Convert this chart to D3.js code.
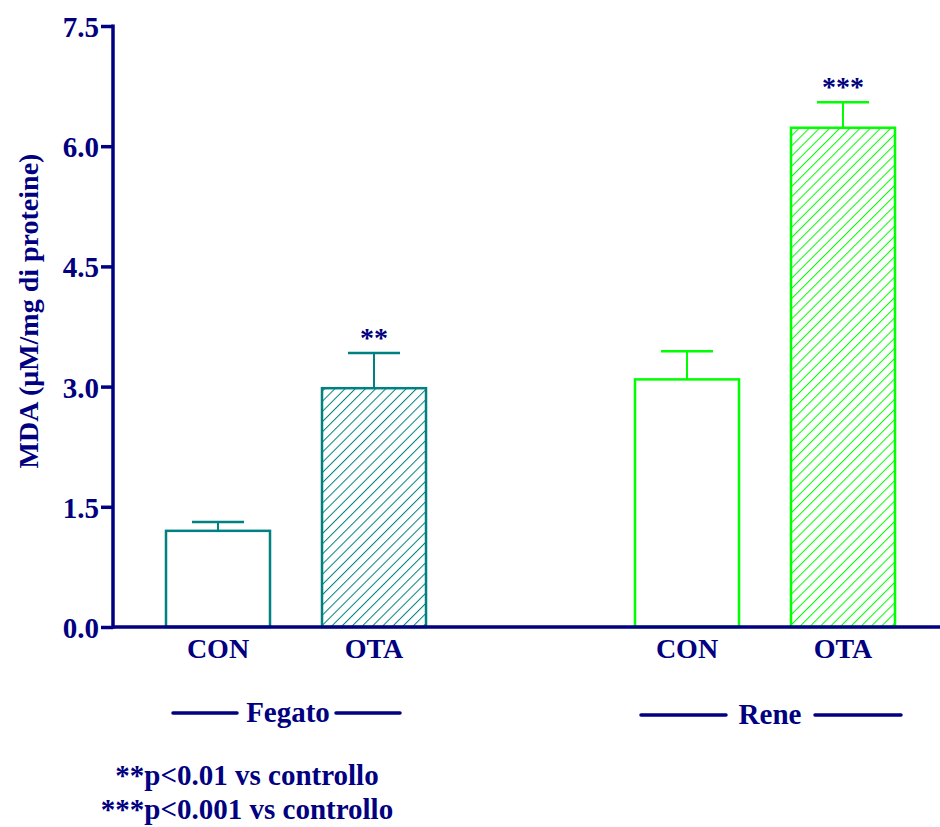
<!DOCTYPE html>
<html>
<head>
<meta charset="utf-8">
<script src="https://cdn.jsdelivr.net/npm/d3@7"></script>
<style>
  body { margin: 0; background: #fff; }
  text { font-family: "Liberation Serif", "Times New Roman", serif; font-weight: bold; fill: #000080; }
</style>
</head>
<body>
<svg id="chart" width="940" height="827"></svg>
<script>
// data
var groups = ["Fegato", "Rene"];
var treatments = ["CON", "OTA"];
var meanFegato = [1.20, 2.98];
var semFegato = [0.11, 0.44];
var meanRene = [3.09, 6.23];
var semRene = [0.35, 0.32];
var starsFegato = ["", "**"];
var starsRene = ["", "***"];
var yTicks = [0, 1.5, 3.0, 4.5, 6.0, 7.5];
var notes = ["**p<0.01 vs controllo", "***p<0.001 vs controllo"];

var groupColor = { Fegato: "#008080", Rene: "#00ff00" };
var navy = "#000080";

var rows = [];
groups.forEach(function (g, gi) {
    var means = gi === 0 ? meanFegato : meanRene;
    var sems = gi === 0 ? semFegato : semRene;
    var stars = gi === 0 ? starsFegato : starsRene;
    treatments.forEach(function (t, ti) {
        rows.push({ group: g, treat: t, mean: means[ti], sem: sems[ti], star: stars[ti] });
    });
});

var svg = d3.select("#chart");
var axisX = 113, y0 = 627, yTop = 26;

var y = d3.scaleLinear().domain([0, 7.5]).range([y0, yTop]);
var x0 = d3.scaleBand().domain(groups).range([166, 895]).paddingInner(0.4456).paddingOuter(0);
var x1 = d3.scaleBand().domain(treatments).range([0, x0.bandwidth()]).paddingInner(1 / 3).paddingOuter(0);

// hatch patterns, one per group colour
var defs = svg.append("defs");
groups.forEach(function (g) {
    var p = defs.append("pattern")
        .attr("id", "hatch-" + g)
        .attr("patternUnits", "userSpaceOnUse")
        .attr("width", 7.2).attr("height", 7.2)
        .attr("patternTransform", "rotate(45)");
    p.append("line")
        .attr("x1", 0).attr("y1", 0).attr("x2", 0).attr("y2", 7.2)
        .attr("stroke", groupColor[g]).attr("stroke-width", 2);
});

function barX(d) { return x0(d.group) + x1(d.treat); }

var bars = svg.append("g");

// error bars (upper only)
bars.selectAll(".err").data(rows).enter().append("g")
    .each(function (d) {
        var cx = barX(d) + x1.bandwidth() / 2;
        var g = d3.select(this);
        g.append("line")
            .attr("x1", cx).attr("x2", cx)
            .attr("y1", y(d.mean)).attr("y2", y(d.mean + d.sem))
            .attr("stroke", groupColor[d.group]).attr("stroke-width", 2);
        g.append("line")
            .attr("x1", cx - x1.bandwidth() / 4).attr("x2", cx + x1.bandwidth() / 4)
            .attr("y1", y(d.mean + d.sem)).attr("y2", y(d.mean + d.sem))
            .attr("stroke", groupColor[d.group]).attr("stroke-width", 2.5);
    });

bars.selectAll("rect").data(rows).enter().append("rect")
    .attr("x", barX)
    .attr("y", function (d) { return y(d.mean); })
    .attr("width", x1.bandwidth())
    .attr("height", function (d) { return y0 - y(d.mean); })
    .attr("fill", function (d) { return d.treat === "OTA" ? "url(#hatch-" + d.group + ")" : "#fff"; })
    .attr("stroke", function (d) { return groupColor[d.group]; })
    .attr("stroke-width", 2.5);

// significance stars
bars.selectAll(".star").data(rows.filter(function (d) { return d.star; })).enter().append("text")
    .attr("x", function (d) { return barX(d) + x1.bandwidth() / 2; })
    .attr("y", function (d) { return y(d.mean + d.sem) - 6; })
    .attr("text-anchor", "middle")
    .style("font-size", "28px")
    .text(function (d) { return d.star; });

// y axis
var yAxis = d3.axisLeft(y).tickValues(yTicks).tickSize(12).tickPadding(2)
    .tickFormat(d3.format(".1f"));
var ya = svg.append("g").attr("transform", "translate(" + axisX + ",0)").call(yAxis);
ya.select(".domain").remove();
ya.selectAll(".tick line").attr("stroke", navy).attr("stroke-width", 3.5);
ya.selectAll(".tick text").style("font-size", "29px").attr("fill", navy).attr("dy", "0.36em");

svg.append("line")
    .attr("x1", axisX).attr("x2", axisX).attr("y1", yTop - 1.5).attr("y2", y0 + 1.5)
    .attr("stroke", navy).attr("stroke-width", 3.5);
svg.append("line")
    .attr("x1", axisX).attr("x2", 940).attr("y1", y0).attr("y2", y0)
    .attr("stroke", navy).attr("stroke-width", 3.5);

// category labels
svg.selectAll(".cat").data(rows).enter().append("text")
    .attr("x", function (d) { return barX(d) + x1.bandwidth() / 2; })
    .attr("y", 658)
    .attr("text-anchor", "middle")
    .style("font-size", "28px")
    .text(function (d) { return d.treat; });

// group labels with lines either side
var groupLab = [
    { name: "Fegato", cx: 288, y: 722, l: [173, 237], r: [336, 400] },
    { name: "Rene", cx: 770, y: 724, l: [641, 726], r: [815, 901] }
];
groupLab.forEach(function (g) {
    svg.append("text").attr("x", g.cx).attr("y", g.y).attr("text-anchor", "middle")
        .style("font-size", "29px").text(g.name);
    [g.l, g.r].forEach(function (s) {
        svg.append("line").attr("x1", s[0]).attr("x2", s[1]).attr("y1", g.y - 9).attr("y2", g.y - 9)
            .attr("stroke", navy).attr("stroke-width", 3.5).attr("stroke-linecap", "round");
    });
});

// footnotes
svg.selectAll(".note").data(notes).enter().append("text")
    .attr("x", 247)
    .attr("y", function (d, i) { return 785 + i * 34; })
    .attr("text-anchor", "middle")
    .style("font-size", "29px")
    .text(function (d) { return d; });

// y axis title
svg.append("text")
    .attr("transform", "translate(38,311) rotate(-90)")
    .attr("text-anchor", "middle")
    .style("font-size", "28px")
    .text("MDA (\u03bcM/mg di proteine)");
</script>
</body>
</html>
